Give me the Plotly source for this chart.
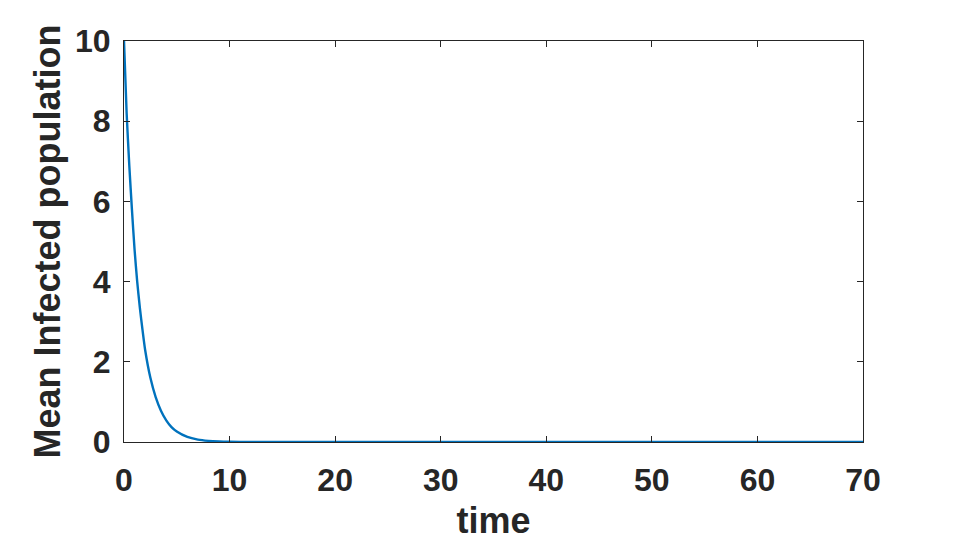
import plotly.graph_objects as go

time = [0, 0.25, 0.5, 0.75, 1, 1.25, 1.5, 1.75, 2, 2.5, 3, 3.5, 4, 4.5, 5, 6, 7, 8, 9, 10, 12, 15, 20, 30, 40, 50, 60, 70]
mean_infected = [10, 8.2, 6.9, 5.8, 4.8, 4.0, 3.35, 2.8, 2.3, 1.6, 1.12, 0.78, 0.54, 0.37, 0.26, 0.125, 0.06, 0.029, 0.014, 0.007, 0.002, 0.0003, 0, 0, 0, 0, 0, 0]

x_ticks = [0, 10, 20, 30, 40, 50, 60, 70]
y_ticks = [0, 2, 4, 6, 8, 10]

FONT = "Liberation Sans, Arial"
DARK = "#262626"

fig = go.Figure()
fig.add_trace(go.Scatter(x=time, y=mean_infected, mode="lines",
                         line=dict(color="#0072BD", width=2.4, shape="spline", smoothing=0.6),
                         showlegend=False, hoverinfo="skip"))

axis_common = dict(showline=True, linecolor=DARK, linewidth=1, mirror="ticks",
                   ticks="inside", ticklen=6, tickcolor=DARK, showgrid=False,
                   zeroline=False, automargin=False,
                   tickfont=dict(family=FONT, size=32, color=DARK, weight="bold"))

fig.update_layout(
    width=955, height=542,
    margin=dict(l=116, r=100, t=33, b=108),
    paper_bgcolor="white", plot_bgcolor="white",
    font=dict(family=FONT, color=DARK),
    xaxis=dict(range=[0, 70], tickvals=x_ticks, ticklabelstandoff=10,
               title=dict(text="time", font=dict(size=36, family=FONT, color=DARK, weight="bold"), standoff=10),
               **axis_common),
    yaxis=dict(range=[0, 10], tickvals=y_ticks, ticklabelstandoff=6,
               title=dict(text="Mean Infected population", font=dict(size=36, family=FONT, color=DARK, weight="bold"), standoff=3),
               **axis_common),
)

fig.write_html("out.html")
